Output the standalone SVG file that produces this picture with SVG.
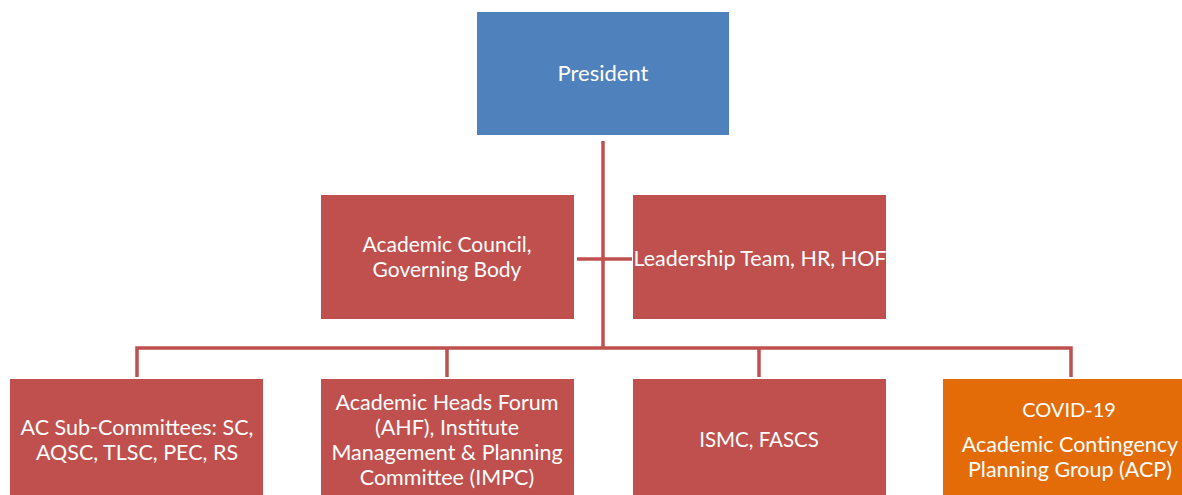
<svg xmlns="http://www.w3.org/2000/svg" width="1182" height="495" viewBox="0 0 1182 495">
<style>
.red{fill:#C0504D}
.blue{fill:#4F81BD}
.orange{fill:#E36C09}
text{font-family:Lato,"Open Sans",sans-serif;font-size:21.5px;fill:#ffffff;text-anchor:middle}
.conn{stroke:#C0504D;stroke-width:3.5;fill:none}
</style>
<rect width="1182" height="495" fill="#ffffff"/>
<g id="connectors">
<line class="conn" x1="603" y1="141" x2="603" y2="348"/>
<line class="conn" x1="577" y1="259" x2="632" y2="259"/>
<polyline class="conn" points="137,377 137,348 1071,348 1071,377"/>
<line class="conn" x1="447" y1="348" x2="447" y2="377"/>
<line class="conn" x1="759" y1="348" x2="759" y2="377"/>
</g>
<g id="president">
<rect class="blue" x="477" y="12" width="252" height="123"/>
<text x="603" y="81" style="font-size:22px">President</text>
</g>
<g id="academic-council">
<rect class="red" x="321" y="195" width="253" height="124"/>
<text x="447" y="252" style="font-size:21px">Academic Council,</text>
<text x="447" y="277" style="font-size:21px">Governing Body</text>
</g>
<g id="leadership">
<rect class="red" x="633" y="195" width="253" height="124"/>
<text x="760" y="266" style="font-size:21.5px">Leadership Team, HR, HOF</text>
</g>
<g id="ac-sub">
<rect class="red" x="10" y="379" width="253" height="116"/>
<text x="137" y="435">AC Sub-Committees: SC,</text>
<text x="137" y="460">AQSC, TLSC, PEC, RS</text>
</g>
<g id="ahf">
<rect class="red" x="321" y="379" width="253" height="116"/>
<text x="447" y="410">Academic Heads Forum</text>
<text x="447" y="435">(AHF), Institute</text>
<text x="447" y="460">Management &amp; Planning</text>
<text x="447" y="485">Committee (IMPC)</text>
</g>
<g id="ismc">
<rect class="red" x="633" y="379" width="253" height="116"/>
<text x="759" y="447" style="font-size:20.5px">ISMC, FASCS</text>
</g>
<g id="covid">
<rect class="orange" x="943" y="379" width="239" height="116"/>
<text x="1069" y="417" style="font-size:20px">COVID-19</text>
<text x="1070" y="452">Academic Contingency</text>
<text x="1070" y="477">Planning Group (ACP)</text>
</g>
</svg>
